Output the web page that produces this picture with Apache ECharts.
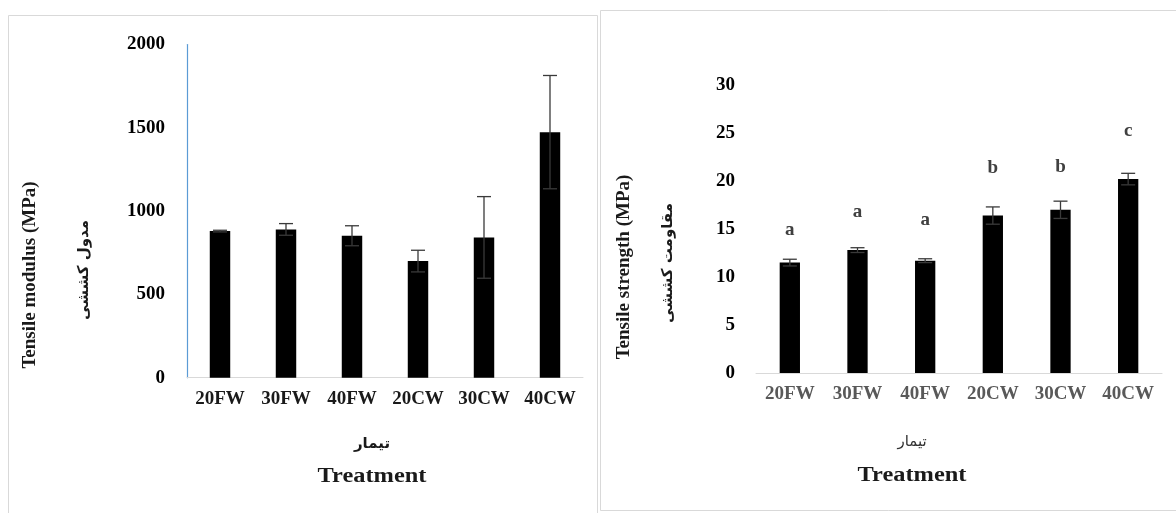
<!DOCTYPE html>
<html>
<head>
<meta charset="utf-8">
<script src="https://cdn.jsdelivr.net/npm/echarts@6/dist/echarts.min.js"></script>
<style>html,body{margin:0;padding:0;background:#fff}#c{width:1176px;height:513px}</style>
</head>
<body>
<div id="c"></div>
<script>
const categories = ['20FW', '30FW', '40FW', '20CW', '30CW', '40CW'];
const modulusValues = [880, 890, 852, 700, 842, 1474];
const modulusErrors = [5, 35, 60, 65, 245, 340];
const strengthValues = [11.5, 12.8, 11.7, 16.4, 17.0, 20.2];
const strengthErrors = [0.35, 0.25, 0.2, 0.9, 0.9, 0.6];
const strengthLetters = ['a', 'a', 'a', 'b', 'b', 'c'];
const strengthLetterY = [14.9, 16.8, 15.9, 21.3, 21.5, 25.2];

const SERIF = '"Liberation Serif", "Times New Roman", serif';
const FA = '"DejaVu Serif", "DejaVu Sans", sans-serif';

function errorSeries(values, errors, axisIdx) {
  return {
    type: 'custom',
    xAxisIndex: axisIdx, yAxisIndex: axisIdx,
    data: values.map((v, i) => [i, v, errors[i]]),
    z: 5,
    renderItem: function (params, api) {
      const x = api.value(0), v = api.value(1), e = api.value(2);
      const hi = api.coord([x, v + e]);
      const lo = api.coord([x, v - e]);
      const w = 7;
      const st = { stroke: '#3a3a3a', lineWidth: 1.3 };
      return {
        type: 'group',
        children: [
          { type: 'line', shape: { x1: hi[0], y1: hi[1], x2: lo[0], y2: lo[1] }, style: st },
          { type: 'line', shape: { x1: hi[0] - w, y1: hi[1], x2: hi[0] + w, y2: hi[1] }, style: st },
          { type: 'line', shape: { x1: lo[0] - w, y1: lo[1], x2: lo[0] + w, y2: lo[1] }, style: st }
        ]
      };
    }
  };
}

const plain = v => String(v);

const chart = echarts.init(document.getElementById('c'), null, { renderer: 'canvas' });
chart.setOption({
  animation: false,
  backgroundColor: '#ffffff',
  grid: [
    { left: 187, width: 396, top: 44.5, height: 333.2 },
    { left: 756, width: 406, top: 85, height: 288 }
  ],
  xAxis: [
    {
      gridIndex: 0, type: 'category', data: categories,
      axisLine: { lineStyle: { color: '#d9d9d9', width: 1 } },
      axisTick: { show: false },
      axisLabel: { interval: 0, hideOverlap: false, color: '#1a1a1a', fontFamily: SERIF, fontWeight: 'bold', fontSize: 19, margin: 12 }
    },
    {
      gridIndex: 1, type: 'category', data: categories,
      axisLine: { lineStyle: { color: '#d9d9d9', width: 1 } },
      axisTick: { show: false },
      axisLabel: { interval: 0, hideOverlap: false, color: '#595959', fontFamily: SERIF, fontWeight: 'bold', fontSize: 19, margin: 12 }
    }
  ],
  yAxis: [
    {
      gridIndex: 0, type: 'value', min: 0, max: 2000, interval: 500,
      axisLine: { show: true, lineStyle: { color: '#5b9bd5', width: 1.2 } },
      axisTick: { show: false },
      splitLine: { show: false },
      axisLabel: { color: '#000', fontFamily: SERIF, fontWeight: 'bold', fontSize: 19, margin: 22, formatter: plain }
    },
    {
      gridIndex: 1, type: 'value', min: 0, max: 30, interval: 5,
      axisLine: { show: false },
      axisTick: { show: false },
      splitLine: { show: false },
      axisLabel: { color: '#000', fontFamily: SERIF, fontWeight: 'bold', fontSize: 19, margin: 21, formatter: plain }
    }
  ],
  series: [
    {
      type: 'bar', xAxisIndex: 0, yAxisIndex: 0, data: modulusValues,
      barWidth: '31%', itemStyle: { color: '#000' }
    },
    errorSeries(modulusValues, modulusErrors, 0),
    {
      type: 'bar', xAxisIndex: 1, yAxisIndex: 1, data: strengthValues,
      barWidth: '30%', itemStyle: { color: '#000' }
    },
    errorSeries(strengthValues, strengthErrors, 1),
    {
      type: 'custom', xAxisIndex: 1, yAxisIndex: 1,
      data: strengthLetterY.map((v, i) => [i, v]),
      z: 6,
      renderItem: function (params, api) {
        const p = api.coord([api.value(0), api.value(1)]);
        return {
          type: 'text',
          style: {
            x: p[0], y: p[1], text: strengthLetters[params.dataIndex],
            fill: '#404040', font: 'bold 19px ' + SERIF,
            textAlign: 'center', textVerticalAlign: 'middle'
          }
        };
      }
    }
  ],
  graphic: [
    { type: 'rect', shape: { x: 8.5, y: 15.5, width: 589, height: 520 }, style: { fill: 'none', stroke: '#d9d9d9', lineWidth: 1 }, z: -1 },
    { type: 'rect', shape: { x: 600.5, y: 10.5, width: 600, height: 500 }, style: { fill: 'none', stroke: '#d9d9d9', lineWidth: 1 }, z: -1 },
    { type: 'text', x: 30, y: 275, rotation: Math.PI / 2,
      style: { text: 'Tensile modulus (MPa)', font: 'bold 19px ' + SERIF, fill: '#1a1a1a', textAlign: 'center', textVerticalAlign: 'middle' } },
    { type: 'text', x: 84, y: 270, rotation: Math.PI / 2,
      style: { text: 'مدول کششی', font: 'bold 15px ' + FA, fill: '#1a1a1a', textAlign: 'center', textVerticalAlign: 'middle' } },
    { type: 'text', x: 372, y: 444,
      style: { text: 'تیمار', font: 'bold 15px ' + FA, fill: '#1a1a1a', textAlign: 'center', textVerticalAlign: 'middle' } },
    { type: 'text', x: 372, y: 477, scaleX: 1.22,
      style: { text: 'Treatment', font: 'bold 20px ' + SERIF, fill: '#1a1a1a', textAlign: 'center', textVerticalAlign: 'middle' } },
    { type: 'text', x: 624, y: 267, rotation: Math.PI / 2,
      style: { text: 'Tensile strength (MPa)', font: 'bold 19px ' + SERIF, fill: '#1a1a1a', textAlign: 'center', textVerticalAlign: 'middle' } },
    { type: 'text', x: 668, y: 263, rotation: Math.PI / 2,
      style: { text: 'مقاومت کششی', font: 'bold 15px ' + FA, fill: '#1a1a1a', textAlign: 'center', textVerticalAlign: 'middle' } },
    { type: 'text', x: 912, y: 442,
      style: { text: 'تیمار', font: '15px ' + FA, fill: '#333', textAlign: 'center', textVerticalAlign: 'middle' } },
    { type: 'text', x: 912, y: 476, scaleX: 1.22,
      style: { text: 'Treatment', font: 'bold 20px ' + SERIF, fill: '#1a1a1a', textAlign: 'center', textVerticalAlign: 'middle' } }
  ]
});
</script>
</body>
</html>
